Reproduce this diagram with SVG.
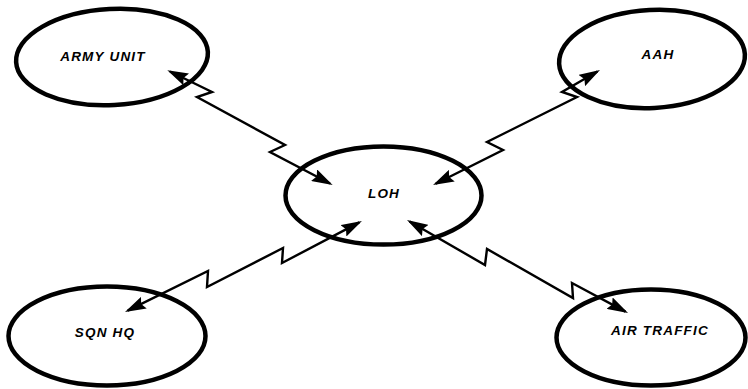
<svg xmlns="http://www.w3.org/2000/svg" width="748" height="389" viewBox="0 0 748 389">
<style>
.node ellipse{fill:none;stroke:#000;stroke-width:4.5}
.node text{font-family:"Liberation Sans",Arial,sans-serif;font-weight:bold;font-style:italic;font-size:13.5px;letter-spacing:1.2px;text-anchor:middle;fill:#000}
.conn path{fill:none;stroke:#000;stroke-width:2.4;stroke-linejoin:miter;marker-start:url(#ah);marker-end:url(#ah)}
</style>
<defs>
<marker id="ah" viewBox="0 0 21 13" markerUnits="userSpaceOnUse" markerWidth="21" markerHeight="13" refX="18" refY="6.5" orient="auto-start-reverse">
<path d="M0,0 L21,6.5 L0,13 L3,6.5 z" fill="#000"/>
</marker>
</defs>
<rect width="748" height="389" fill="#fff"/>
<g id="army-unit" class="node"><ellipse cx="112" cy="57" rx="96" ry="48" transform="rotate(-3 112 57)"/><text x="103" y="61">ARMY UNIT</text></g>
<g id="aah" class="node"><ellipse cx="652" cy="59" rx="93" ry="49" transform="rotate(-3 652 59)"/><text x="658" y="59">AAH</text></g>
<g id="loh" class="node"><ellipse cx="383.5" cy="195.5" rx="98" ry="49"/><text x="384" y="198">LOH</text></g>
<g id="sqn-hq" class="node"><ellipse cx="107" cy="336" rx="98.5" ry="49.5"/><text x="105" y="337">SQN HQ</text></g>
<g id="air-traffic" class="node"><ellipse cx="651" cy="337.5" rx="94.5" ry="48"/><text x="660" y="335">AIR TRAFFIC</text></g>
<g id="connectors" class="conn">
<path d="M170,71.5 L212,92 L197,97 L285,145 L270,152 L330,183.5"/>
<path d="M597.4,71.5 L562,92 L577,97 L487,142 L503,150 L435.7,183.7"/>
<path d="M127.7,310.7 L208,271 L207,287 L283,248 L282,263 L359.3,222.4"/>
<path d="M409.6,221.5 L485,265 L487,249 L573,298 L572,283 L625.4,311.6"/>
</g>
</svg>
